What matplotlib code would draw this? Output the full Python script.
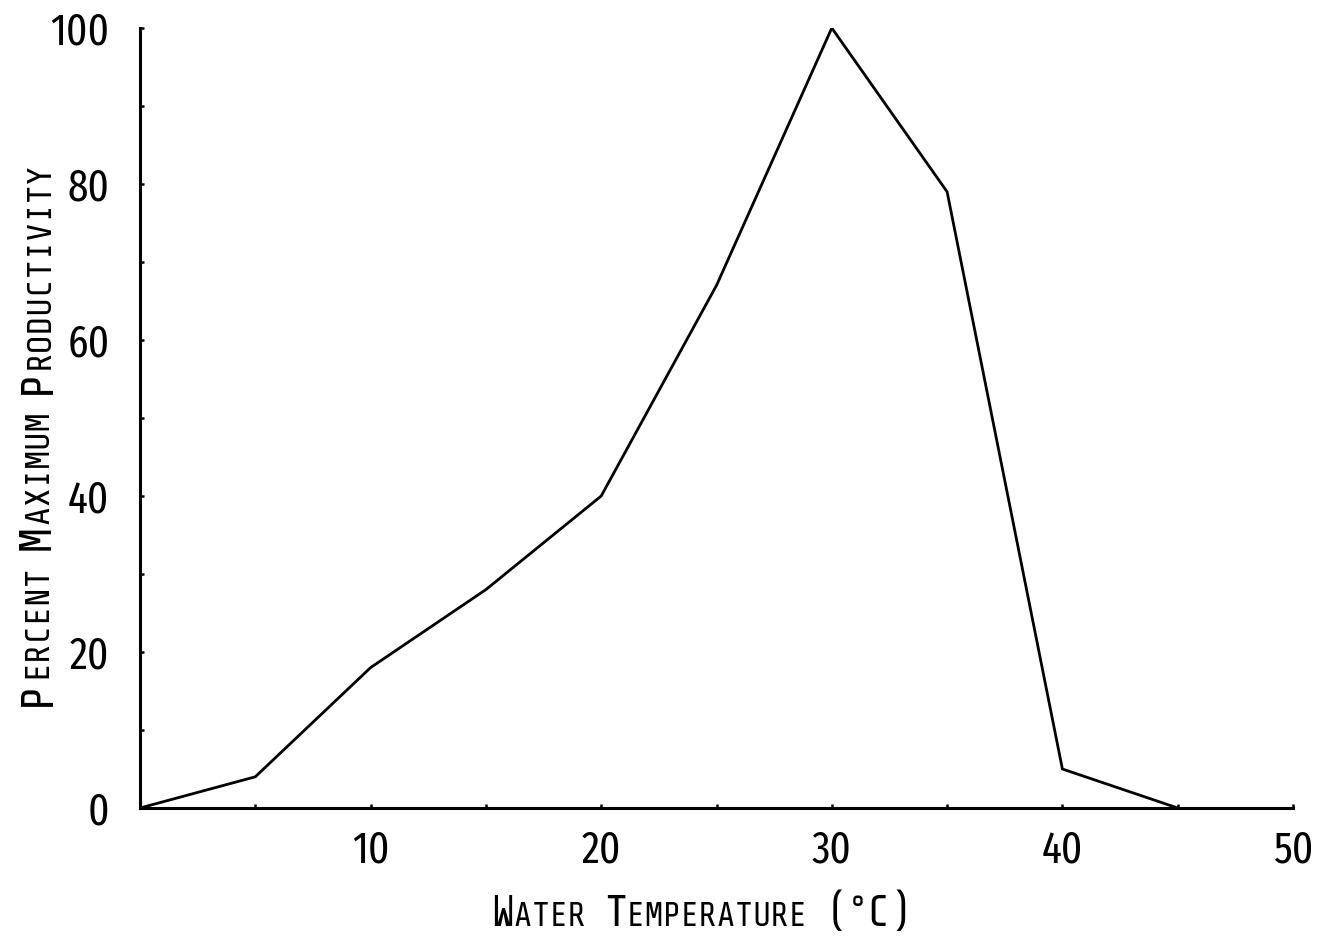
import matplotlib
matplotlib.use("Agg")
import matplotlib.pyplot as plt
from matplotlib.transforms import IdentityTransform

# ---- data ----
temperature = [0, 5, 10, 15, 20, 25, 30, 35, 40, 45]
productivity = [0, 4, 18, 28, 40, 67, 100, 79, 5, 0]
x_ticks = [10, 20, 30, 40, 50]
y_ticks = [0, 20, 40, 60, 80, 100]
x_minor = [5, 15, 25, 35, 45]
y_minor = [10, 30, 50, 70, 90]

FAM = ['Share Tech Mono', 'Fira Sans Extra Condensed', 'DejaVu Sans']
TICK_FAM = ['Fira Sans Extra Condensed', 'Share Tech Mono', 'DejaVu Sans']
plt.rcParams['font.family'] = FAM

W, H, DPI = 1318, 936, 100
fig = plt.figure(figsize=(W / DPI, H / DPI), dpi=DPI)
x0, x1, y0, y1 = 140, 1293, 808, 28
ax = fig.add_axes([x0 / W, (H - y0) / H, (x1 - x0) / W, (y0 - y1) / H])

ax.plot(temperature, productivity, color='black', lw=2.0, solid_joinstyle='miter')
ax.set_xlim(0, 50)
ax.set_ylim(0, 100)
for s in ['top', 'right']:
    ax.spines[s].set_visible(False)
for s in ['left', 'bottom']:
    ax.spines[s].set_linewidth(2.2)

ax.set_xticks(x_ticks)
ax.set_yticks(y_ticks)
ax.set_xticks(x_minor, minor=True)
ax.set_yticks(y_minor, minor=True)
ax.tick_params(axis='both', which='both', direction='in', length=3, width=1.8, labelsize=32)
ax.tick_params(axis='x', which='major', pad=15)
ax.tick_params(axis='y', which='major', pad=22)
for lab in ax.get_xticklabels() + ax.get_yticklabels():
    lab.set_family(TICK_FAM)
    lab.set_fontweight(400)

fig.canvas.draw()
renderer = fig.canvas.get_renderer()


def smallcaps(pieces, center, base, rotation=0):
    texts = []
    for s, size, rise in pieces:
        t = fig.text(0, 0, s, fontsize=size, rotation=rotation, transform=IdentityTransform(),
                     ha='left', va='baseline', rotation_mode='anchor')
        texts.append((t, rise))
    lens = []
    for t, _ in texts:
        bb = t.get_window_extent(renderer)
        lens.append(bb.width if rotation == 0 else bb.height)
    total = sum(lens)
    pos = center - total / 2
    for (t, rise), L in zip(texts, lens):
        if rotation == 0:
            t.set_position((pos, base + rise))
        else:
            t.set_position((base - rise, pos))
        pos += L


# y label (display coords: origin bottom-left)
YB, YS = 33, 25
smallcaps([('P', YB, 0), ('ERCENT ', YS, 0), ('M', YB, 0), ('AXIMUM ', YS, 0),
           ('P', YB, 0), ('RODUCTIVITY', YS, 0)],
          center=H - 434, base=50, rotation=90)

# x label
XB, XS = 31, 24
smallcaps([('W', XB, 0), ('ATER ', XS, 0), ('T', XB, 0), ('EMPERATURE ', XS, 0),
           ('(', XB, 0), ('°', XS, 6), ('C)', XB, 0)],
          center=702, base=H - 926, rotation=0)

fig.savefig('out.png', dpi=DPI)
